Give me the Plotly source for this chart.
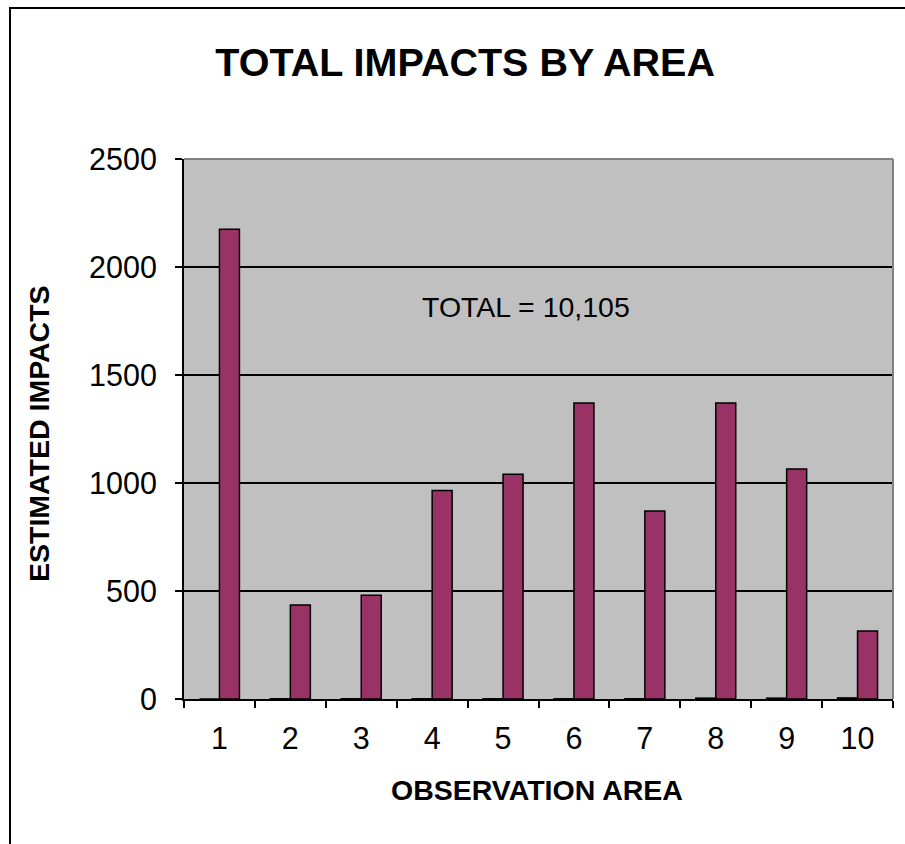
import plotly.graph_objects as go

# Observation areas and estimated impact counts per area
areas = ["1", "2", "3", "4", "5", "6", "7", "8", "9", "10"]
minor_impacts = [0, 1, 1, 1, 1, 1, 1, 4, 4, 5]
estimated_impacts = [2175, 435, 480, 965, 1040, 1370, 870, 1370, 1065, 315]
total_label = "TOTAL = 10,105"
y_ticks = [0, 500, 1000, 1500, 2000, 2500]

FONT = "Liberation Sans, Arial, sans-serif"

fig = go.Figure()
fig.add_trace(go.Bar(
    x=areas, y=minor_impacts, name="Series 1",
    marker=dict(color="#9999FF", line=dict(color="black", width=1.5)),
))
fig.add_trace(go.Bar(
    x=areas, y=estimated_impacts, name="Series 2",
    marker=dict(color="#993366", line=dict(color="black", width=1.5)),
))

fig.update_layout(
    width=905, height=844,
    margin=dict(l=184, r=12, t=159, b=145),
    paper_bgcolor="white",
    plot_bgcolor="#C0C0C0",
    barmode="group",
    bargap=0.436,
    bargroupgap=0,
    showlegend=False,
    font=dict(family=FONT, color="black", size=30),
    title=dict(
        text="<b>TOTAL IMPACTS BY AREA</b>",
        font=dict(family=FONT, size=39.5, color="black"),
        xref="container", x=0.514, xanchor="center",
        yref="container", y=1 - 62 / 844, yanchor="middle",
    ),
)

fig.update_xaxes(
    type="category",
    showgrid=False,
    ticks="outside", ticklen=7, tickwidth=2, tickcolor="black",
    tickson="boundaries",
    showline=True, linecolor="black", linewidth=2,
    tickfont=dict(family=FONT, size=30.5, color="black"),
    ticklabelstandoff=11,
    mirror=False,
)
fig.update_yaxes(
    range=[0, 2500],
    tickvals=y_ticks,
    showgrid=True, gridcolor="black", gridwidth=2,
    ticks="outside", ticklen=7, tickwidth=2, tickcolor="black",
    showline=True, linecolor="black", linewidth=2,
    tickfont=dict(family=FONT, size=30.5, color="black"),
    ticklabelstandoff=12,
    zeroline=False,
)

# gray frame on the top and right edges of the plot area
fig.add_shape(type="line", xref="paper", yref="paper", x0=0, x1=1, y0=1, y1=1,
              line=dict(color="#808080", width=2))
fig.add_shape(type="line", xref="paper", yref="paper", x0=1, x1=1, y0=0, y1=1,
              line=dict(color="#808080", width=2))

# outer chart border
fig.add_shape(type="rect", xref="paper", yref="paper",
              x0=(10 - 184) / 709, x1=(915 - 184) / 709,
              y0=(699 - 860) / 540, y1=(699 - 8) / 540,
              line=dict(color="black", width=2), fillcolor="rgba(0,0,0,0)",
              layer="below")

# axis titles
fig.add_annotation(text="<b>ESTIMATED IMPACTS</b>", xref="paper", yref="paper",
                   x=(39 - 184) / 709, y=(699 - 434) / 540, textangle=-90,
                   showarrow=False, font=dict(family=FONT, size=28.5, color="black"),
                   xanchor="center", yanchor="middle")
fig.add_annotation(text="<b>OBSERVATION AREA</b>", xref="paper", yref="paper",
                   x=(537 - 184) / 709, y=(699 - 790) / 540,
                   showarrow=False, font=dict(family=FONT, size=28.5, color="black"),
                   xanchor="center", yanchor="middle")

# total annotation inside the plot
fig.add_annotation(text=total_label, xref="paper", yref="paper",
                   x=(526 - 184) / 709, y=(699 - 307) / 540,
                   showarrow=False, font=dict(family=FONT, size=28.5, color="black"),
                   xanchor="center", yanchor="middle")

fig.write_html("out.html")
